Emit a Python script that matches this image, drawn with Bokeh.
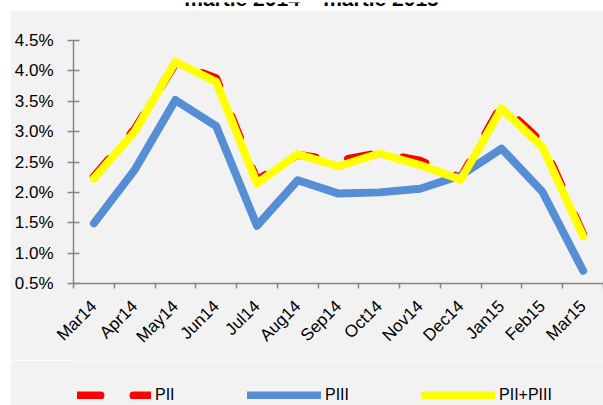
import math
from bokeh.plotting import figure
from bokeh.models import (Range1d, FixedTicker, PrintfTickFormatter, Legend, LegendItem,
                          ColumnDataSource, Spacer, Label)
from bokeh.layouts import column, row
from bokeh.embed import file_html
from bokeh.resources import INLINE

title_text = "martie 2014 \u2013 martie 2015"
months = ["Mar14", "Apr14", "May14", "Jun14", "Jul14", "Aug14", "Sep14",
          "Oct14", "Nov14", "Dec14", "Jan15", "Feb15", "Mar15"]
pii = [2.26, 3.04, 4.12, 3.88, 2.20, 2.62, 2.52, 2.65, 2.52, 2.24, 3.44, 2.82, 1.31]
piii = [1.49, 2.37, 3.52, 3.09, 1.45, 2.20, 1.98, 2.00, 2.06, 2.28, 2.72, 2.01, 0.71]
pii_piii = [2.23, 3.00, 4.15, 3.82, 2.15, 2.63, 2.43, 2.64, 2.45, 2.21, 3.38, 2.75, 1.28]
y_ticks = [0.5, 1.0, 1.5, 2.0, 2.5, 3.0, 3.5, 4.0, 4.5]
series_names = ["PII", "PIII", "PII+PIII"]
series_colors = ["#ff0000", "#558ed5", "#ffff00"]

x = list(range(len(months)))
src = ColumnDataSource(dict(x=x, pii=pii, piii=piii, both=pii_piii))

BG = "#f2f2f2"
AX = "#868686"
FONT = "Liberation Sans"


def blank_fig(w, h, fill):
    f = figure(width=w, height=h, output_backend="svg", toolbar_location=None,
               x_range=Range1d(0, 1), y_range=Range1d(-10, -9),
               x_axis_location=None, y_axis_location=None,
               min_border=0, min_border_left=0, min_border_right=0,
               min_border_top=0, min_border_bottom=0)
    f.background_fill_color = fill
    f.border_fill_color = fill
    f.outline_line_color = None
    f.grid.visible = False
    return f


# ---- title strip (title is cut off at the top, as in the reference) ----
p0 = blank_fig(603, 10, "white")
p0.add_layout(Label(x=311, y=14, x_units="screen", y_units="screen", text=title_text,
                    text_align="center", text_baseline="alphabetic",
                    text_font=FONT, text_font_style="bold", text_font_size="21px",
                    text_color="black"))

# ---- main chart ----
p = figure(width=593, height=350, output_backend="svg", toolbar_location=None,
           x_range=Range1d(-0.5, len(months) - 0.5),
           y_range=Range1d(y_ticks[0], y_ticks[-1]),
           min_border_left=63, min_border_right=0, min_border_top=30, min_border_bottom=77)
p.background_fill_color = BG
p.border_fill_color = BG
p.outline_line_color = None
p.grid.visible = False

xa = p.xaxis[0]
xa.ticker = FixedTicker(ticks=x, minor_ticks=[i - 0.5 for i in range(len(months) + 1)])
xa.major_label_overrides = {i: m for i, m in zip(x, months)}
xa.major_tick_line_color = None
xa.major_tick_in = 0
xa.major_tick_out = 0
xa.minor_tick_in = 0
xa.minor_tick_out = 5
xa.minor_tick_line_color = AX
xa.minor_tick_line_width = 1.5
xa.axis_line_color = AX
xa.axis_line_width = 1.5
xa.major_label_orientation = math.pi / 4
xa.major_label_standoff = 15
xa.major_label_text_font = FONT
xa.major_label_text_font_size = "17px"
xa.major_label_text_color = "black"

ya = p.yaxis[0]
ya.ticker = FixedTicker(ticks=y_ticks)
ya.formatter = PrintfTickFormatter(format="%.1f%%")
ya.major_tick_in = 6
ya.major_tick_out = 6
ya.major_tick_line_color = AX
ya.major_tick_line_width = 1.5
ya.minor_tick_line_color = None
ya.axis_line_color = AX
ya.axis_line_width = 1.5
ya.major_label_standoff = 14
ya.major_label_text_font = FONT
ya.major_label_text_font_size = "17px"
ya.major_label_text_color = "black"

line_styles = [dict(line_dash="23 33"), dict(), dict()]
series_cols = ["pii", "piii", "both"]
for col, c, st in zip(series_cols, series_colors, line_styles):
    p.line("x", col, source=src, line_color=c, line_width=8,
           line_cap="round", line_join="round", **st)

# ---- legend strip (its frame is aligned with the chart's frame) ----
p2 = blank_fig(593, 45, BG)
proxies = []
for col, c, st in zip(series_cols, series_colors, line_styles):
    # same series, outside this strip's visible range: only used as legend keys
    proxies.append(p2.line("x", col, source=src, line_color=c, line_width=8,
                           line_cap="round", line_join="round", **st))
legend = Legend(items=[LegendItem(label=n, renderers=[r]) for n, r in zip(series_names, proxies)],
                orientation="horizontal", location=(4, 1),
                glyph_width=74, glyph_height=8, label_height=16,
                label_standoff=4, spacing=72,
                padding=0, margin=0, border_line_color=None,
                background_fill_alpha=0,
                label_text_font=FONT, label_text_font_size="16px",
                label_text_color="black")
p2.add_layout(legend)

layout = column(p0, row(Spacer(width=10, height=395), column(p, p2, spacing=0), spacing=0),
                spacing=0)

open("out.html", "w").write(file_html(layout, INLINE))
